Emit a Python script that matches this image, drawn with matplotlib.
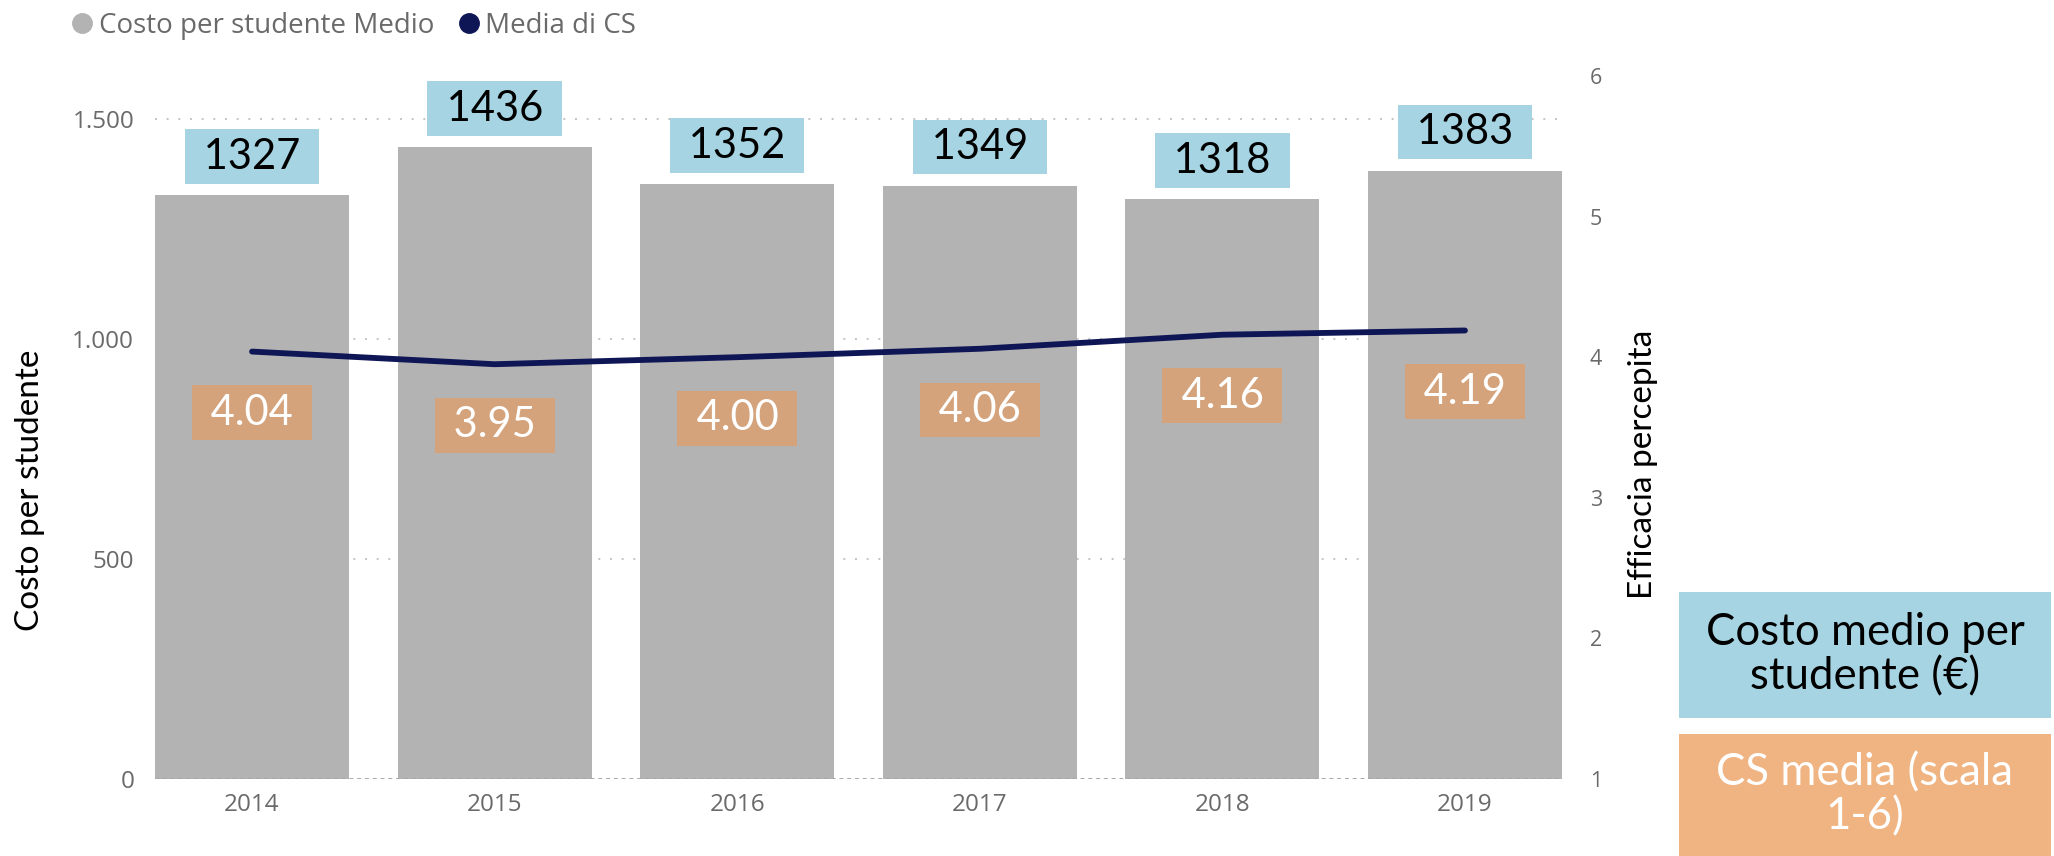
import matplotlib.pyplot as plt
from matplotlib.lines import Line2D
import numpy as np

years = ['2014', '2015', '2016', '2017', '2018', '2019']
costo = [1327, 1436, 1352, 1349, 1318, 1383]
cs_media = [4.04, 3.95, 4.00, 4.06, 4.16, 4.19]
cs_labels = ['4.04', '3.95', '4.00', '4.06', '4.16', '4.19']
left_ticks = [0, 500, 1000, 1500]
left_ticklabels = ['0', '500', '1.000', '1.500']

bar_color = '#B3B3B3'
line_color = '#0F1656'
blue_box = '#A6D4E2'
orange_on = '#D4A37C'
orange_box = '#F0B483'
tick_color = '#6A6A6A'
grid_color = '#C4C4C4'

fig = plt.figure(figsize=(20.54, 8.56), dpi=100)
ax = fig.add_axes([155 / 2054, 77 / 856, 1407 / 2054, 703 / 856])
ax2 = ax.twinx()

x = np.arange(len(years))
ax.bar(x, costo, width=0.8, color=bar_color, zorder=2)
ax.set_xlim(-0.4, 5.4)
ax.set_ylim(0, 1598)
ax.set_yticks(left_ticks)
ax.set_yticklabels(left_ticklabels)
ax.set_xticks(x)
ax.set_xticklabels(years)

for a in (ax, ax2):
    for s in a.spines.values():
        s.set_visible(False)
    a.tick_params(length=0, labelcolor=tick_color)
ax.tick_params(axis='both', labelsize=17.5)
ax.tick_params(axis='y', pad=15)
ax.tick_params(axis='x', pad=10)

for v in left_ticks[1:]:
    ax.axhline(v, color=grid_color, lw=1.4, ls=(0, (1, 5)), zorder=1)
ax.axhline(0, color='#A8A8A8', lw=1.4, ls=(0, (2, 2)), zorder=3)

ax2.plot(x, cs_media, color=line_color, lw=4.2, solid_capstyle='round', zorder=4)
ax2.set_ylim(1, 6)
ax2.set_yticks([1, 2, 3, 4, 5, 6])
ax2.tick_params(axis='y', labelsize=15.5, pad=20)

for lab in ax.get_xticklabels() + ax.get_yticklabels() + ax2.get_yticklabels():
    lab.set_family('Open Sans')

ax.set_ylabel('Costo per studente', fontsize=24, family='Lato')
ax.yaxis.set_label_coords(-0.078, 0.41)
ax2.set_ylabel('Efficacia percepita', fontsize=24, family='Lato')
ax2.yaxis.set_label_coords(1.047, 0.447)

# value boxes
for xi, v in zip(x, costo):
    ax.annotate(f' {v} ', (xi, v), xytext=(0, 14), textcoords='offset points',
                ha='center', va='bottom', fontsize=30, family='Lato', color='black',
                bbox=dict(boxstyle='square,pad=0.2', fc=blue_box, ec='none'), zorder=6)
for xi, v, lab in zip(x, cs_media, cs_labels):
    ax2.annotate(f' {lab} ', (xi, v), xytext=(0, -44), textcoords='offset points',
                 ha='center', va='center', fontsize=30, family='Lato', color='white',
                 bbox=dict(boxstyle='square,pad=0.2', fc=orange_on, ec='none'), zorder=6)

# legend
handles = [Line2D([], [], marker='o', ls='none', color=bar_color, markersize=14),
           Line2D([], [], marker='o', ls='none', color=line_color, markersize=14)]
fig.legend(handles, ['Costo per studente Medio', 'Media di CS'], loc='upper left',
           bbox_to_anchor=(0.021, 1.0155), ncol=2, frameon=False, handletextpad=0.1,
           columnspacing=0.75, handlelength=1.0, prop={'family': 'Open Sans', 'size': 20},
           labelcolor=tick_color)

# side boxes
fig.patches.append(plt.Rectangle((1679 / 2054, (856 - 718) / 856), 372 / 2054, 126 / 856,
                                 transform=fig.transFigure, fc=blue_box, ec='none'))
fig.text(1865 / 2054, (856 - 655) / 856, 'Costo medio per\nstudente (€)', ha='center', va='center',
         fontsize=31.5, family='Lato', color='black', linespacing=1.1)
fig.patches.append(plt.Rectangle((1679 / 2054, 0), 372 / 2054, 122 / 856,
                                 transform=fig.transFigure, fc=orange_box, ec='none'))
fig.text(1865 / 2054, 61 / 856, 'CS media (scala\n1-6)', ha='center', va='center',
         fontsize=31.5, family='Lato', color='white', linespacing=1.1)

fig.savefig('out.png', dpi=100)
